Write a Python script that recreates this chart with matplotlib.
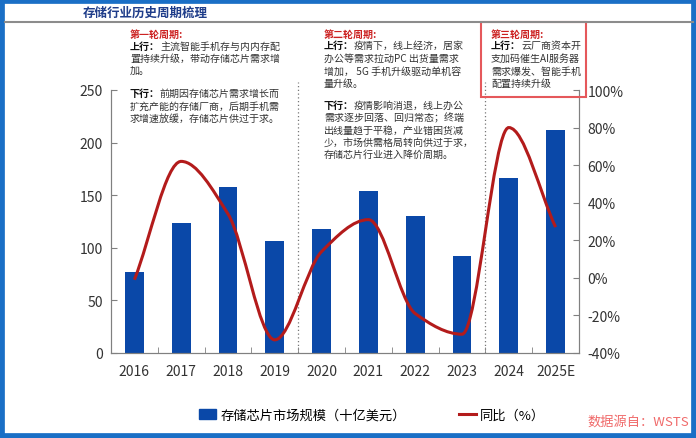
import numpy as np
import matplotlib.pyplot as plt
from matplotlib.path import Path
from matplotlib.patches import PathPatch, Rectangle, Patch
from matplotlib.lines import Line2D

plt.rcParams['font.family'] = ['Noto Sans CJK SC', 'DejaVu Sans']

years = ['2016', '2017', '2018', '2019', '2020', '2021', '2022', '2023', '2024', '2025E']
market = [77, 124, 158, 106, 118, 154, 130, 92, 166, 212]
yoy = [-1, 62, 34, -33, 14, 31, -19, -30, 80, 27]

title = '存储行业历史周期梳理'
bar_label = '存储芯片市场规模（十亿美元）'
line_label = '同比（%）'
source = '数据源自：WSTS'

cycle1 = [('head', '第一轮周期:'),
          ('上行：', '主流智能手机存与内内存配'),
          ('', '置持续升级，带动存储芯片需求增'),
          ('', '加。'),
          ('下行：', '前期因存储芯片需求增长而'),
          ('', '扩充产能的存储厂商，后期手机需'),
          ('', '求增速放缓，存储芯片供过于求。')]
cycle2 = [('head', '第二轮周期:'),
          ('上行：', '疫情下，线上经济，居家'),
          ('', '办公等需求拉动PC 出货量需求'),
          ('', '增加， 5G 手机升级驱动单机容'),
          ('', '量升级。'),
          ('下行：', '疫情影响消退，线上办公'),
          ('', '需求逐步回落、回归常态；终端'),
          ('', '出线量趋于平稳，产业错困货减'),
          ('', '少，市场供需格局转向供过于求，'),
          ('', '存储芯片行业进入降价周期。')]
cycle3 = [('head', '第三轮周期:'),
          ('上行：', '云厂商资本开'),
          ('', '支加码催生AI服务器'),
          ('', '需求爆发、智能手机'),
          ('', '配置持续升级')]

W, H = 696, 439
blue = '#0a48a8'
red = '#b31b1b'
grey = '#808080'

fig = plt.figure(figsize=(W / 100, H / 100), dpi=100)
ax = fig.add_axes([111 / W, 1 - 354 / H, 468 / W, 263 / H])
x = np.arange(len(years))

ax.bar(x, market, width=0.4, color=blue, zorder=2)
ax.set_xlim(-0.5, len(years) - 0.5)
ax.set_ylim(0, 250)
ax.set_yticks([0, 50, 100, 150, 200, 250])
ax.set_xticks(x)
ax.set_xticklabels(years)
ax.set_xticks(x[:-1] + 0.5, minor=True)
ax.tick_params(axis='x', which='major', length=0, pad=8, labelsize=10, colors='#333333')
ax.tick_params(axis='x', which='minor', direction='in', length=4, color=grey)
ax.tick_params(axis='y', direction='in', length=4, color=grey, labelsize=10, labelcolor='#333333', pad=6)
for s in ['left', 'bottom', 'right']:
    ax.spines[s].set_color(grey)
ax.spines['top'].set_visible(False)

# dotted cycle separators
for xs in [3.5, 7.5]:
    ax.plot([xs, xs], [0, 258], ls=(0, (1, 2)), color='#777777', lw=0.9, clip_on=False, zorder=1)

ax2 = ax.twinx()
ax2.set_ylim(-40, 100)
ax2.set_yticks(range(-40, 101, 20))
ax2.set_yticklabels([f'{v}%' for v in range(-40, 101, 20)])
ax2.tick_params(axis='y', direction='in', length=4, color=grey, labelsize=10, labelcolor='#333333', pad=6)
for s in ['left', 'bottom', 'right']:
    ax2.spines[s].set_color(grey)
ax2.spines['top'].set_visible(False)

# smoothed line: monotone cubic slopes, drawn as bezier segments
yv = np.array(yoy, dtype=float)
d = np.diff(yv)
m = np.zeros_like(yv)
m[0], m[-1] = d[0], d[-1]
for i in range(1, len(yv) - 1):
    if d[i - 1] * d[i] > 0:
        m[i] = 2 / (1 / d[i - 1] + 1 / d[i])
verts = [(x[0], yv[0])]
codes = [Path.MOVETO]
for i in range(len(yv) - 1):
    verts += [(x[i] + 1 / 3, yv[i] + m[i] / 3), (x[i + 1] - 1 / 3, yv[i + 1] - m[i + 1] / 3),
              (x[i + 1], yv[i + 1])]
    codes += [Path.CURVE4] * 3
ax2.add_patch(PathPatch(Path(verts, codes), fill=False, edgecolor=red, lw=2.2, zorder=3))

# title and frame
fig.text(83 / W, 1 - 13 / H, title, fontsize=9, fontweight='bold', color='#1f3d8a', va='center')
fig.add_artist(Line2D([5 / W, 693 / W], [1 - 23 / H, 1 - 23 / H], color='#8c8c8c', lw=1.5))
fig.add_artist(Rectangle((0, 0), 1, 1, transform=fig.transFigure, fill=False,
                         edgecolor='#1a6fc6', lw=7))

def block(x0, ys, lines):
    for (pre, txt), yy in zip(lines, ys):
        if pre == 'head':
            fig.text(x0 / W, 1 - yy / H, txt, fontsize=7.2, fontweight='bold', color='#cc2222', va='center')
            continue
        off = 0
        if pre:
            fig.text(x0 / W, 1 - yy / H, pre, fontsize=7.2, fontweight='bold', color='#111111', va='center')
            off = 30
        fig.text((x0 + off) / W, 1 - yy / H, txt, fontsize=7.2, color='#333333', va='center')

block(130, [35, 47, 59, 71, 94, 107, 119], cycle1)
block(324, [35, 46, 59, 72, 84, 106, 118, 131, 143, 155], cycle2)
block(491, [35, 46, 59, 72, 84], cycle3)

fig.add_artist(Rectangle((481 / W, 1 - 98 / H), 105 / W, 75 / H, transform=fig.transFigure,
                         fill=False, edgecolor='#e5585b', lw=1.5))

handles = [Patch(color=blue), Line2D([], [], color=red, lw=2.2)]
fig.legend(handles, [bar_label, line_label], loc='center', bbox_to_anchor=(372 / W, 1 - 416 / H),
           ncol=2, frameon=False, fontsize=9.5, handlelength=1.3, handleheight=0.7,
           columnspacing=4, handletextpad=0.3)
fig.text(689 / W, 1 - 422 / H, source, fontsize=9.5, color='#f06a6a', ha='right', va='center')

plt.savefig('out.png', dpi=100)
